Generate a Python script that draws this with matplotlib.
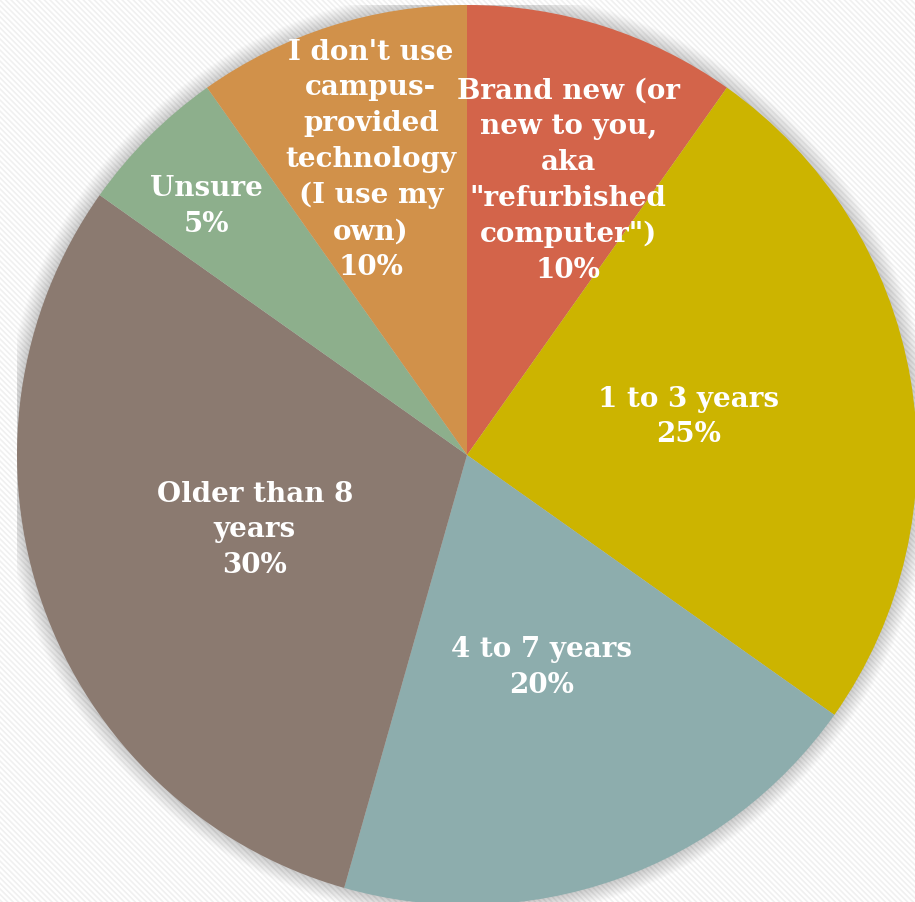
import matplotlib.pyplot as plt
from matplotlib.patches import Circle, Rectangle
import numpy as np

categories = ['Brand new (or\nnew to you,\naka\n"refurbished\ncomputer")',
              '1 to 3 years',
              '4 to 7 years',
              'Older than 8\nyears',
              'Unsure',
              "I don't use\ncampus-\nprovided\ntechnology\n(I use my\nown)"]
# shares (labels show rounded percentages)
shares = [9.8, 25.0, 19.6, 30.4, 5.4, 9.8]
colors = ['#D3644A', '#CCB400', '#8DADAD', '#8B7A70', '#8DAF8C', '#D1914A']
label_radius = [0.65, 0.5, 0.5, 0.5, 0.8, 0.69]
label_shift = [-2.6, 0, 0, 0, 1.4, 0.4]   # degrees

fig = plt.figure(figsize=(9.15, 9.02), dpi=100)
fig.patch.set_facecolor('white')

# faint diagonal striped background
bg = fig.add_axes([0, 0, 1, 1])
bg.set_axis_off()
plt.rcParams['hatch.linewidth'] = 1.2
bg.add_patch(Rectangle((0, 0), 1, 1, facecolor='white', edgecolor='#f0f0f0',
                       hatch='\\\\\\\\\\\\', linewidth=0, transform=bg.transAxes))

ax = fig.add_axes([17 / 915, -3 / 902, 900 / 915, 900 / 902])
ax.set_axis_off()

# soft shadow around the pie
for k in range(12):
    ax.add_patch(Circle((0, 0), 1 + 0.003 * (k + 1), facecolor='#000000',
                        alpha=0.014, linewidth=0, zorder=0))

wedges, _ = ax.pie(shares, colors=colors, startangle=90, counterclock=False,
                   radius=1, wedgeprops=dict(linewidth=0))
for w in wedges:
    w.set_zorder(2)
ax.set_xlim(-1, 1)
ax.set_ylim(-1, 1)
ax.set_aspect('equal')

total = sum(shares)
for w, name, val, r, d in zip(wedges, categories, shares, label_radius, label_shift):
    mid = np.deg2rad((w.theta1 + w.theta2) / 2 + d)
    ax.text(r * np.cos(mid), r * np.sin(mid), f'{name}\n{round(val / total * 100)}%',
            ha='center', va='center', color='white', fontsize=20,
            fontweight='bold', family='DejaVu Serif', linespacing=1.42,
            zorder=3)

fig.savefig('out.png', dpi=100)
